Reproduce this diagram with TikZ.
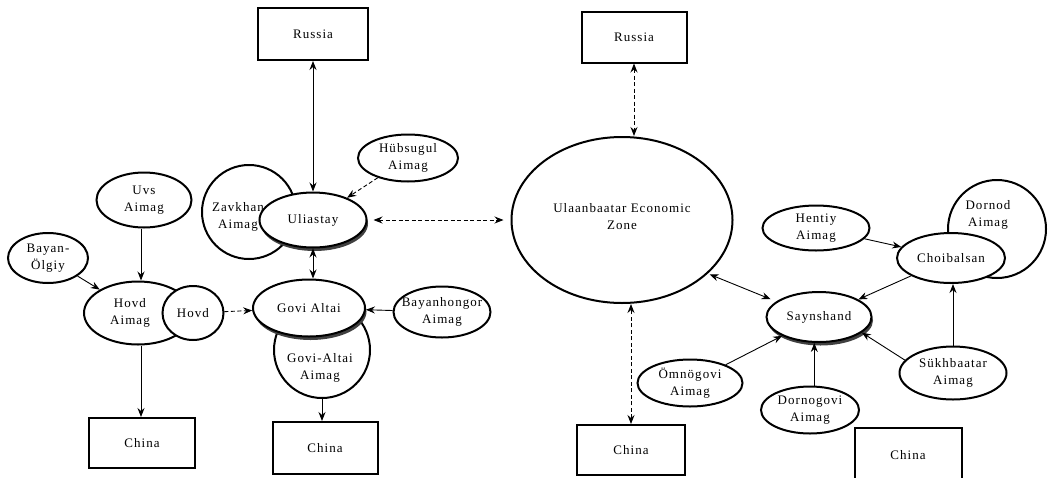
\documentclass[tikz,border=0pt]{standalone}
\usepackage{fontspec}
\setmainfont{Liberation Serif}[LetterSpace=8]
\usetikzlibrary{arrows.meta,calc,shapes.geometric}
\tikzset{
  every node/.style={font=\fontsize{13}{17}\selectfont},
  oval/.style={ellipse, draw, line width=2pt, fill=white, inner sep=0pt},
  rnd/.style={circle, draw, line width=2pt, fill=white, inner sep=0pt},
  box/.style={rectangle, draw, line width=2pt, fill=white, inner sep=0pt},
  lab/.style={align=center, inner sep=0pt},
  >={Stealth[length=9pt,width=7pt,inset=3pt]},
  conn/.style={line width=0.9pt, ->},
  conn2/.style={line width=0.9pt, <->},
  dsh/.style={dash pattern=on 4pt off 2.5pt},
  rim/.style={fill=black!75},
}
\begin{document}
\begin{tikzpicture}[x=1pt,y=-1pt]
\clip (0,0) rectangle (1054,477);
\fill[white] (0,0) rectangle (1054,477);

% ---- left group ----
\node[box, minimum width=110pt, minimum height=52pt, label={[lab]center:Russia}] (rus1) at (313,34) {};
\node[oval, minimum width=95pt, minimum height=55pt, label={[lab]center:Uvs\\Aimag}] (uvs) at (144,200) {};
\node[oval, minimum width=80pt, minimum height=50pt, label={[lab]center:Bayan-\\Ölgiy}] (bayan) at (48,258) {};
\node[oval, minimum width=108pt, minimum height=63pt, label={[lab,xshift=-8pt]center:Hovd\\Aimag}] (hovdA) at (138,313) {};
\node[oval, minimum width=61pt, minimum height=54pt, label={[lab]center:Hovd}] (hovd) at (193,313) {};
\node[box, minimum width=106pt, minimum height=50pt, label={[lab]center:China}] (china1) at (142,443) {};

\node[rnd, minimum size=94pt, label={[lab,xshift=-11pt,yshift=-5pt]center:Zavkhan\\Aimag}] (zav) at (249,212) {};
\fill[rim] (314.5,223.5) ellipse [x radius=53.5, y radius=27.5];
\node[oval, minimum width=107pt, minimum height=55pt, label={[lab]center:Uliastay}] (uli) at (313,220) {};
\node[oval, minimum width=100pt, minimum height=47pt, label={[lab]center:Hübsugul\\Aimag}] (hub) at (408,158) {};

\node[rnd, minimum size=96pt, label={[lab,xshift=-2pt,yshift=-18pt]center:Govi-Altai\\Aimag}] (gaa) at (322,350) {};
\fill[rim] (310.5,311.5) ellipse [x radius=56, y radius=28.5];
\node[oval, minimum width=112pt, minimum height=57pt, label={[lab]center:Govi Altai}] (govi) at (309,308) {};
\node[oval, minimum width=97pt, minimum height=51pt, label={[lab]center:Bayanhongor\\Aimag}] (bayanh) at (442,312) {};
\node[box, minimum width=105pt, minimum height=52pt, label={[lab]center:China}] (china2) at (325,448) {};

% ---- right group ----
\node[box, minimum width=105pt, minimum height=51pt, label={[lab]center:Russia}] (rus2) at (634,37) {};
\node[oval, minimum width=221pt, minimum height=166pt, label={[lab,yshift=3pt]center:Ulaanbaatar Economic\\Zone}] (ub) at (622,220) {};
\node[box, minimum width=108pt, minimum height=50pt, label={[lab]center:China}] (china3) at (631,450) {};
\node[oval, minimum width=107pt, minimum height=45pt, label={[lab]center:Hentiy\\Aimag}] (hentiy) at (816,228) {};
\node[rnd, minimum size=98pt, label={[lab,xshift=-9pt,yshift=14pt]center:Dornod\\Aimag}] (dornod) at (997,229) {};
\node[oval, minimum width=108pt, minimum height=50pt, label={[lab]center:Choibalsan}] (choi) at (951,258) {};
\fill[rim] (820.5,320.5) ellipse [x radius=52.5, y radius=25];
\node[oval, minimum width=105pt, minimum height=50pt, label={[lab]center:Saynshand}] (sayn) at (819,317) {};
\node[oval, minimum width=107pt, minimum height=53pt, label={[lab]center:Sükhbaatar\\Aimag}] (sukh) at (953,373) {};
\node[oval, minimum width=105pt, minimum height=47pt, label={[lab]center:Ömnögovi\\Aimag}] (omno) at (690,383) {};
\node[box, minimum width=107pt, minimum height=54pt, label={[lab]center:China}] (china4) at (908,455) {};
\node[oval, minimum width=98pt, minimum height=47pt, label={[lab]center:Dornogovi\\Aimag}] (dorno) at (810,410) {};

% ---- connectors ----
\draw[conn2] (rus1.south) -- (uli.north);
\draw[conn, dsh] (hub) -- (uli);
\draw[conn2, dsh] ([xshift=6pt]uli.east) -- ([xshift=-7pt]ub.west);
\draw[conn2] (uli.south) -- (uli.south |- govi.north);
\draw[conn] ([xshift=-3pt]uvs.south) -- ([xshift=-3pt]uvs.south |- hovdA.north);
\draw[conn] (bayan) -- (hovdA);
\draw[conn, dsh] (hovd) -- (govi);
\draw[conn] ([xshift=3pt]hovdA.south) -- ([xshift=3pt]hovdA.south |- china1.north);
\draw[conn] (gaa.south) -- (gaa.south |- china2.north);
\draw[conn] (bayanh) -- (govi);
\draw[conn2, dsh] (rus2.south) -- (rus2.south |- ub.north);
\draw[conn2, dsh] (china3.north) -- (china3.north |- ub.south);
\draw[conn2, shorten <=2pt, shorten >=6pt] (ub.-32) -- (sayn.160);
\draw[conn] (hentiy) -- (choi);
\draw[conn] (choi) -- (sayn);
\draw[conn] (sukh.north) -- (sukh.north |- choi.south);
\draw[conn] (sukh.165) -- (sayn.-20);
\draw[conn] (dorno.80) -- (dorno.80 |- sayn.south);
\draw[conn] (omno) -- (sayn);
\end{tikzpicture}
\end{document}
